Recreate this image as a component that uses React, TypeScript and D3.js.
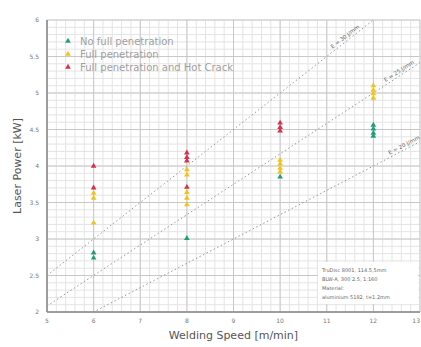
import React from "react";
import * as d3 from "d3";

const xTicks = [5, 6, 7, 8, 9, 10, 11, 12, 13];
const yTicks = [2, 2.5, 3, 3.5, 4, 4.5, 5, 5.5, 6];

const noPenSpeed = [6, 6, 8, 10, 12, 12, 12, 12];
const noPenPower = [2.81, 2.74, 3.01, 3.85, 4.56, 4.51, 4.45, 4.41];

const fullPenSpeed = [6, 6, 6, 8, 8, 8, 8, 8, 10, 10, 10, 10, 12, 12, 12, 12];
const fullPenPower = [3.63, 3.56, 3.22, 3.95, 3.88, 3.64, 3.56, 3.47, 4.08, 4.03, 3.97, 3.92, 5.1, 5.04, 4.99, 4.93];

const hotCrackSpeed = [6, 6, 8, 8, 8, 8, 10, 10, 10];
const hotCrackPower = [4.0, 3.7, 4.18, 4.12, 4.07, 3.71, 4.59, 4.53, 4.48];

const energyLines = [30, 25, 20]; // J/mm
const energyLabelSpeed = [11.45, 12.6, 12.7];

const seriesNames = ["No full penetration", "Full penetration", "Full penetration and Hot Crack"];
const seriesColors = ["#1f9e7a", "#f2c21b", "#d7304a"];

const noteLines = ["TruDisc 8001, 114.5,5mm", "BLW-A, 300 2.5, 1:160", "Material:", "aluminium 5182, t=1,2mm"];

const W = 421;
const H = 347;
const margin = { top: 20, right: 1, bottom: 35, left: 47 };

export default function App() {
  const x = d3.scaleLinear().domain([5, 13]).range([margin.left, W - margin.right]);
  const y = d3.scaleLinear().domain([2, 6]).range([H - margin.bottom, margin.top]);

  const minorX = d3.range(5, 13.001, 0.2);
  const minorY = d3.range(2, 6.001, 0.1);

  const tri = d3.symbol().type(d3.symbolTriangle).size(14)() || "";

  const series = [
    { speed: noPenSpeed, power: noPenPower },
    { speed: fullPenSpeed, power: fullPenPower },
    { speed: hotCrackSpeed, power: hotCrackPower },
  ];

  const font = "DejaVu Sans, sans-serif";

  return (
    <svg width={W} height={H} style={{ position: "absolute", left: 0, top: 0, background: "#fff" }} fontFamily={font}>
      <defs>
        <clipPath id="plot">
          <rect x={x(5)} y={y(6)} width={x(13) - x(5)} height={y(2) - y(6)} />
        </clipPath>
      </defs>
      {minorX.map((v, i) => (
        <line key={"mx" + i} x1={x(v)} x2={x(v)} y1={y(2)} y2={y(6)} stroke="#e4e4e4" strokeWidth={1} />
      ))}
      {minorY.map((v, i) => (
        <line key={"my" + i} x1={x(5)} x2={x(13)} y1={y(v)} y2={y(v)} stroke="#e4e4e4" strokeWidth={1} />
      ))}
      {xTicks.map((v) => (
        <line key={"gx" + v} x1={x(v)} x2={x(v)} y1={y(2)} y2={y(6)} stroke="#c8c8c8" strokeWidth={1} />
      ))}
      {yTicks.map((v) => (
        <line key={"gy" + v} x1={x(5)} x2={x(13)} y1={y(v)} y2={y(v)} stroke="#c8c8c8" strokeWidth={1} />
      ))}
      <line x1={x(5)} x2={x(13)} y1={y(2)} y2={y(2)} stroke="#888" strokeWidth={1.5} />
      <line x1={x(5)} x2={x(5)} y1={y(2)} y2={y(6)} stroke="#888" strokeWidth={1.5} />

      {xTicks.map((v, i) => (
        <text
          key={"tx" + v}
          x={i === xTicks.length - 1 ? W - 1 : x(v)}
          y={y(2) + 11}
          fontSize={6}
          fill="#777"
          textAnchor={i === xTicks.length - 1 ? "end" : "middle"}
        >
          {v}
        </text>
      ))}
      {yTicks.map((v) => (
        <text key={"ty" + v} x={x(5) - 8} y={y(v) + 2} fontSize={6} fill="#777" textAnchor="end">
          {v}
        </text>
      ))}

      <g clipPath="url(#plot)">
        {energyLines.map((e) => (
          <line
            key={"e" + e}
            x1={x(5)}
            y1={y((e * 5) / 60)}
            x2={x(13)}
            y2={y((e * 13) / 60)}
            stroke="#999"
            strokeWidth={1}
            strokeDasharray="1.5,2.5"
          />
        ))}
      </g>
      {energyLines.map((e, i) => {
        const v = energyLabelSpeed[i];
        const px = x(v);
        const py = y((e * v) / 60);
        const ang = (Math.atan2(y((e * 5) / 60) - y((e * 13) / 60), x(13) - x(5)) * 180) / Math.PI;
        return (
          <text
            key={"el" + e}
            transform={`translate(${px},${py}) rotate(${-ang}) translate(0,-2.5)`}
            fontSize={5.5}
            fill="#666"
            textAnchor="middle"
          >
            {`E = ${e} J/mm`}
          </text>
        );
      })}

      {series.map((s, si) =>
        s.speed.map((v, i) => (
          <path key={si + "-" + i} d={tri} transform={`translate(${x(v)},${y(s.power[i])})`} fill={seriesColors[si]} />
        ))
      )}

      {seriesNames.map((n, i) => (
        <g key={n} transform={`translate(68,${41 + i * 13})`}>
          <path d={tri} fill={seriesColors[i]} />
          <text x={12} y={4} fontSize={10} fill="#a0a0a0">
            {n}
          </text>
        </g>
      ))}

      <rect x={318} y={262} width={100} height={42} fill="#fff" />
      {noteLines.map((t, i) => (
        <text key={t} x={322} y={272 + i * 9} fontSize={5} fill="#666">
          {t}
        </text>
      ))}

      <text transform={`translate(21,${(y(2) + y(6)) / 2}) rotate(-90)`} textAnchor="middle" fontSize={11} fill="#555">
        Laser Power [kW]
      </text>
      <text x={(x(5) + x(13)) / 2} y={339} textAnchor="middle" fontSize={11} fill="#555">
        Welding Speed [m/min]
      </text>
    </svg>
  );
}
